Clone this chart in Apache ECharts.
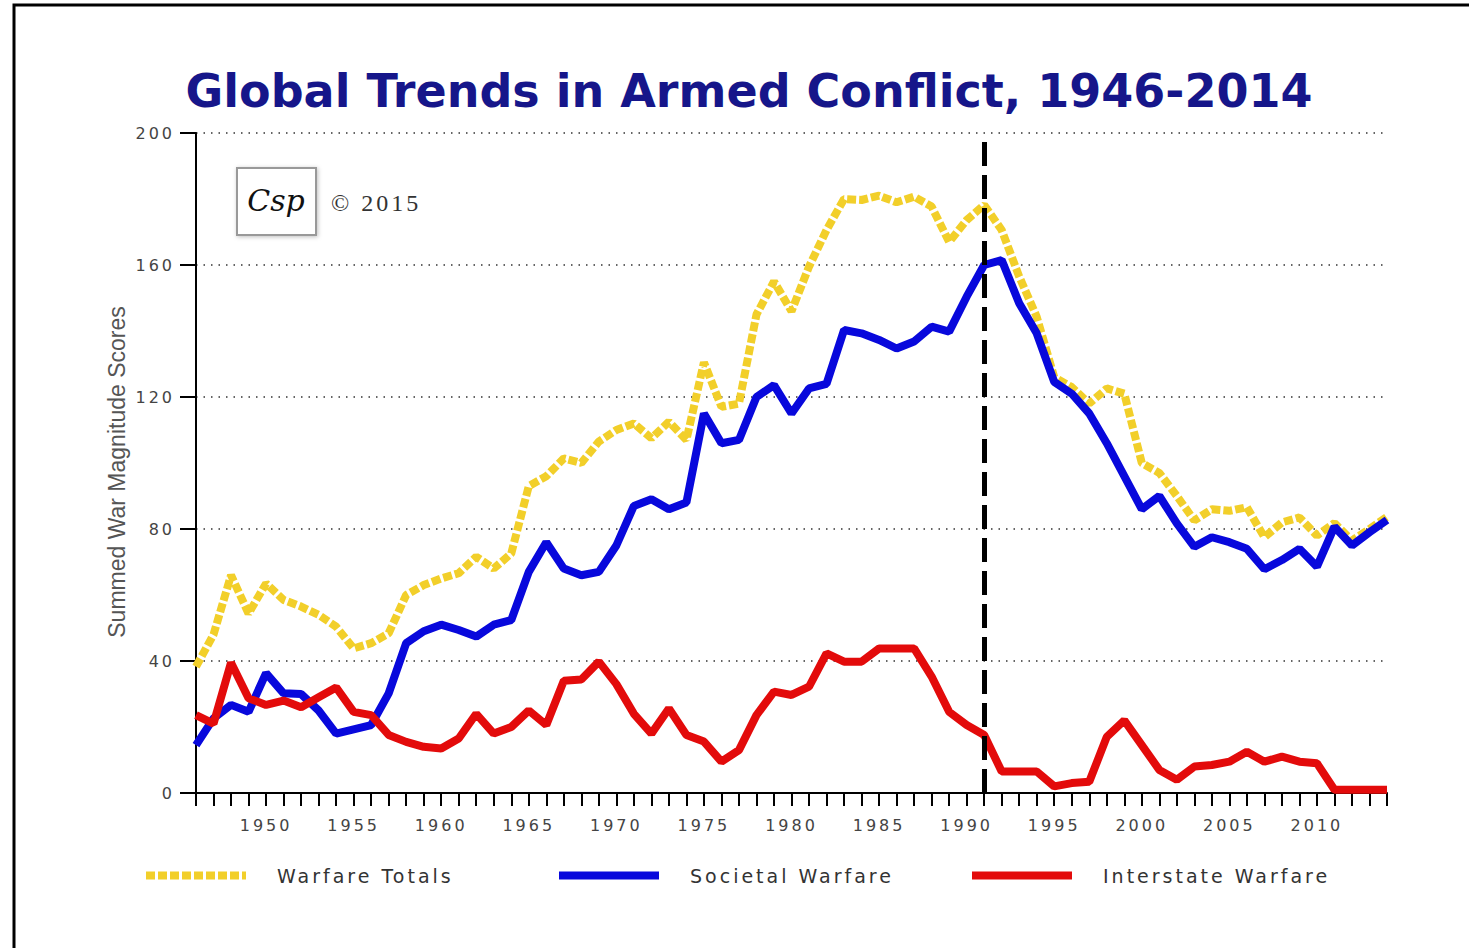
<!DOCTYPE html>
<html>
<head>
<meta charset="utf-8">
<script src="https://cdn.jsdelivr.net/npm/echarts@6/dist/echarts.min.js"></script>
<style>
  html, body { margin: 0; padding: 0; background: #fff; }
  #chart { width: 1469px; height: 948px; }
  /* the original's labels are letter-spaced */
  #chart text { letter-spacing: 3px; }
  #chart text[style*="bold"], #chart text[style*="Liberation Sans"], #chart text[style*="DejaVu Serif"] { letter-spacing: 0; }
</style>
</head>
<body>
<div id="chart"></div>
<script>
const years = [
  "1946", "1947", "1948", "1949", "1950", "1951", "1952", "1953", "1954", "1955",
  "1956", "1957", "1958", "1959", "1960", "1961", "1962", "1963", "1964", "1965",
  "1966", "1967", "1968", "1969", "1970", "1971", "1972", "1973", "1974", "1975",
  "1976", "1977", "1978", "1979", "1980", "1981", "1982", "1983", "1984", "1985",
  "1986", "1987", "1988", "1989", "1990", "1991", "1992", "1993", "1994", "1995",
  "1996", "1997", "1998", "1999", "2000", "2001", "2002", "2003", "2004", "2005",
  "2006", "2007", "2008", "2009", "2010", "2011", "2012", "2013", "2014"
];

const warfareTotals = [
  38.3, 48, 66, 54.4, 63.5, 58.5, 56.5, 54, 50.4, 43.8,
  45.4, 48.4, 60, 63, 65, 66.6, 71.6, 68, 72.6, 93,
  96, 101.4, 100, 106.5, 110, 112, 107.5, 112.5, 107, 130.5,
  117, 118, 145, 155, 146, 159.5, 170.6, 180, 179.7, 181,
  179, 180.7, 177.7, 167, 173.6, 178.2, 170.6, 156.5, 144.3, 126,
  123, 118, 122.6, 121, 100, 97, 90, 82.6, 86, 85.5,
  86.6, 77.5, 82, 83.5, 78, 81.8, 76.5, 80, 83.7
];

const societalWarfare = [
  14.5, 22.6, 26.7, 24.6, 36.3, 30.2, 30, 25, 18, 19.3,
  20.6, 30.2, 45.4, 49, 51, 49.4, 47.4, 51, 52.4, 67,
  76, 68, 66, 67, 75, 87, 89, 86, 88, 115,
  106, 107, 120, 123.6, 115, 122.6, 124, 140.3, 139.3, 137.3,
  134.7, 136.8, 141.3, 139.8, 150.4, 160, 161.5, 148.4, 139.3, 124.6,
  121, 115, 106, 96, 86, 90, 81.7, 74.6, 77.5, 76,
  74, 67.8, 70.6, 74, 68.6, 80.7, 75, 79, 82.7
];

const interstateWarfare = [
  23.6, 21, 39.5, 28.7, 26.7, 28, 26, 29, 32, 24.6,
  23.6, 17.6, 15.5, 14, 13.5, 16.5, 24, 18, 20, 25,
  20.6, 34, 34.4, 39.8, 33, 24, 18, 25.6, 17.6, 15.6,
  9.5, 13, 23.6, 30.7, 29.7, 32.2, 42.3, 39.8, 39.8, 43.8,
  43.8, 43.8, 35.3, 24.6, 20.6, 17.6, 6.5, 6.5, 6.5, 2,
  3, 3.4, 17, 22, 14.5, 7, 4, 8, 8.5, 9.5,
  12.5, 9.5, 11, 9.5, 9, 1, 1, 1, 1
];

const dividerYear = "1991";

const chart = echarts.init(document.getElementById("chart"), null, { renderer: "svg" });

const legendText = {
  color: "#333",
  fontFamily: "DejaVu Sans",
  fontSize: 19,
  padding: [0, 0, 0, 26]
};

function legendFor(name, left, width, dash) {
  return {
    left: left, top: 866, padding: 0, itemWidth: 100, itemHeight: 14,
    data: [name],
    itemStyle: { opacity: 0 },
    lineStyle: { width: width, type: dash },
    textStyle: legendText
  };
}

chart.setOption({
  backgroundColor: "#fff",
  animation: false,
  title: {
    text: "Global Trends in Armed Conflict, 1946-2014",
    left: 744,
    textAlign: "center",
    top: 63,
    textStyle: {
      color: "#16168a",
      fontFamily: "DejaVu Sans",
      fontWeight: "bold",
      fontSize: 46
    }
  },
  legend: [
    legendFor("Warfare Totals", 142, 8, [9, 3]),
    legendFor("Societal Warfare", 555, 8, "solid"),
    legendFor("Interstate Warfare", 968, 8, "solid")
  ],
  grid: { left: 196, right: 82, top: 133, bottom: 155 },
  xAxis: {
    type: "category",
    boundaryGap: false,
    data: years,
    axisLine: { lineStyle: { color: "#000", width: 2 } },
    axisTick: { interval: 0, length: 13, lineStyle: { color: "#000", width: 2 } },
    axisLabel: {
      interval: (idx, val) => Number(val) % 5 === 0,
      margin: 24,
      color: "#444",
      fontFamily: "DejaVu Sans",
      fontSize: 16
    },
    splitLine: { show: false }
  },
  yAxis: {
    type: "value",
    min: 0,
    max: 200,
    interval: 40,
    name: "Summed War Magnitude Scores",
    nameLocation: "middle",
    nameGap: 68,
    nameTextStyle: {
      color: "#555", fontFamily: "Liberation Sans", fontSize: 23,
      padding: [0, 18, 0, 0]
    },
    axisLine: { show: true, lineStyle: { color: "#000", width: 2 } },
    axisTick: { show: true, length: 16, lineStyle: { color: "#000", width: 2 } },
    axisLabel: { margin: 21, color: "#444", fontFamily: "DejaVu Sans", fontSize: 16 },
    splitLine: { lineStyle: { color: "#333", width: 1.5, type: [1.5, 6] } }
  },
  graphic: [
    {
      type: "rect", silent: true, z: -1,
      shape: { x: 14, y: 5, width: 1500, height: 1000 },
      style: { fill: "none", stroke: "#000", lineWidth: 3 }
    },
    {
      type: "rect",
      shape: { x: 237, y: 168, width: 79, height: 67 },
      style: {
        fill: "#fff", stroke: "#999", lineWidth: 2,
        shadowBlur: 4, shadowColor: "rgba(0,0,0,0.25)", shadowOffsetX: 1, shadowOffsetY: 1
      }
    },
    {
      type: "text", x: 276, y: 200,
      style: {
        text: "Csp", font: "italic 30px 'DejaVu Serif'", fill: "#111",
        align: "center", verticalAlign: "middle"
      }
    },
    {
      type: "text", x: 331, y: 191,
      style: { text: "\u00a9 2015", font: "24px 'Liberation Serif'", fill: "#333" }
    }
  ],
  series: [
    {
      name: "Warfare Totals",
      type: "line",
      data: warfareTotals,
      symbol: "none",
      z: 2,
      lineStyle: { color: "#f2cf2a", width: 8, type: [9, 3] },
      itemStyle: { color: "#f2cf2a" }
    },
    {
      name: "Societal Warfare",
      type: "line",
      data: societalWarfare,
      symbol: "none",
      z: 3,
      lineStyle: { color: "#0808dc", width: 8 },
      itemStyle: { color: "#0808dc" }
    },
    {
      name: "Interstate Warfare",
      type: "line",
      data: interstateWarfare,
      symbol: "none",
      z: 4,
      lineStyle: { color: "#e30b0b", width: 8 },
      itemStyle: { color: "#e30b0b" },
      markLine: {
        silent: true,
        symbol: "none",
        z: 10,
        label: { show: false },
        lineStyle: { color: "#000", width: 5, type: [24, 9] },
        data: [[{ coord: [dividerYear, 0] }, { coord: [dividerYear, 198] }]]
      }
    }
  ]
});
</script>
</body>
</html>
